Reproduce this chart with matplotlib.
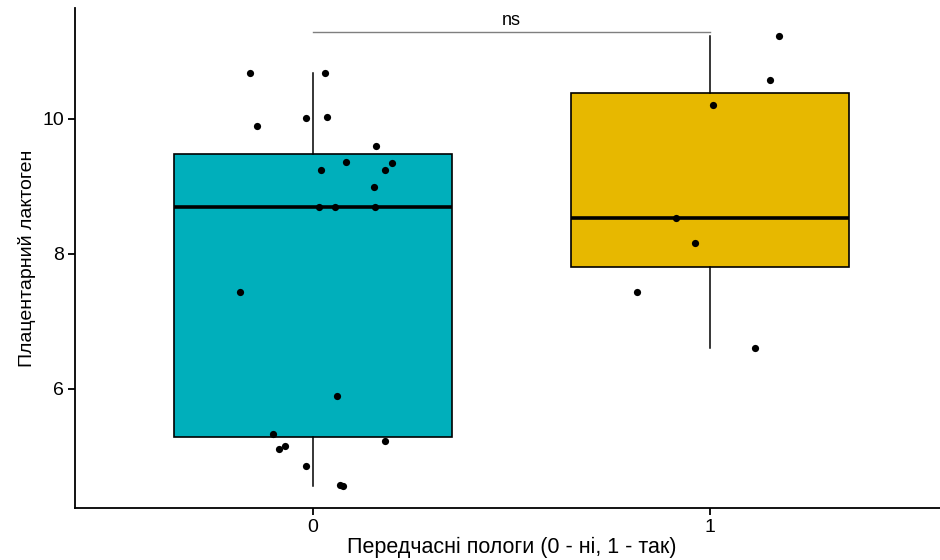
import matplotlib
matplotlib.use("Agg")
import matplotlib.pyplot as plt
import numpy as np

plt.rcParams['font.family'] = ['Liberation Sans', 'DejaVu Sans']

groups = ["0", "1"]
colors = ["#00AFBB", "#E7B800"]

# Placental lactogen values and horizontal jitter offsets per group
values_0 = [10.68, 10.68, 10.02, 10.03, 9.90, 9.60, 9.36, 9.35, 9.24, 9.24,
            8.99, 8.70, 8.70, 8.70, 7.44, 5.89, 5.34, 5.11, 5.16, 5.23,
            4.86, 4.58, 4.56]
jitter_0 = [-0.159, 0.029, -0.019, 0.036, -0.142, 0.158, 0.083, 0.198, 0.019, 0.181,
            0.154, 0.016, 0.055, 0.156, -0.183, 0.061, -0.102, -0.085, -0.071, 0.181,
            -0.018, 0.068, 0.075]
values_1 = [11.23, 10.57, 10.20, 8.53, 8.17, 7.44, 6.61]
jitter_1 = [0.175, 0.151, 0.009, -0.086, -0.037, -0.183, 0.113]

sig_label = "ns"
sig_y = 11.29

fig = plt.figure(figsize=(9.4, 5.6), dpi=100)
ax = fig.add_axes([75 / 940, 52 / 560, 873 / 940, 500 / 560])

positions = [0, 1]
bp = ax.boxplot([values_0, values_1], positions=positions, widths=0.7,
                whis=1.5, showfliers=False, patch_artist=True,
                medianprops=dict(color="black", linewidth=2.6),
                boxprops=dict(edgecolor="black", linewidth=1.2),
                whiskerprops=dict(color="black", linewidth=1.1),
                capprops=dict(linewidth=0), zorder=2)
for patch, c in zip(bp["boxes"], colors):
    patch.set_facecolor(c)

for pos, vals, jit in [(0, values_0, jitter_0), (1, values_1, jitter_1)]:
    xs = pos + np.array(jit)
    ax.scatter(xs, vals, s=27, color="black", zorder=4, linewidths=0)

# significance bracket
ax.plot([0, 1], [sig_y, sig_y], color="#7f7f7f", linewidth=1.0, zorder=3)
ax.text(0.5, sig_y + 0.05, sig_label, ha="center", va="bottom", fontsize=13,
        color="black")

ax.set_xlim(-0.6, 1.6)
ax.set_ylim(4.237, 11.644)
ax.set_xticks(positions)
ax.set_xticklabels(groups)
ax.set_yticks([6, 8, 10])

for side in ["top", "right"]:
    ax.spines[side].set_visible(False)
for side in ["left", "bottom"]:
    ax.spines[side].set_linewidth(1.3)
ax.tick_params(axis="both", length=5, width=1.3, labelsize=14, colors="black",
               pad=3)

ax.set_xlabel("Передчасні пологи (0 - ні, 1 - так)", fontsize=15.5)
ax.set_ylabel("Плацентарний лактоген", fontsize=14)
ax.xaxis.set_label_coords(0.5, (508 - 537) / 500)
ax.yaxis.set_label_coords((36 - 75) / 873, 0.5)

fig.savefig("out.png", dpi=100)
